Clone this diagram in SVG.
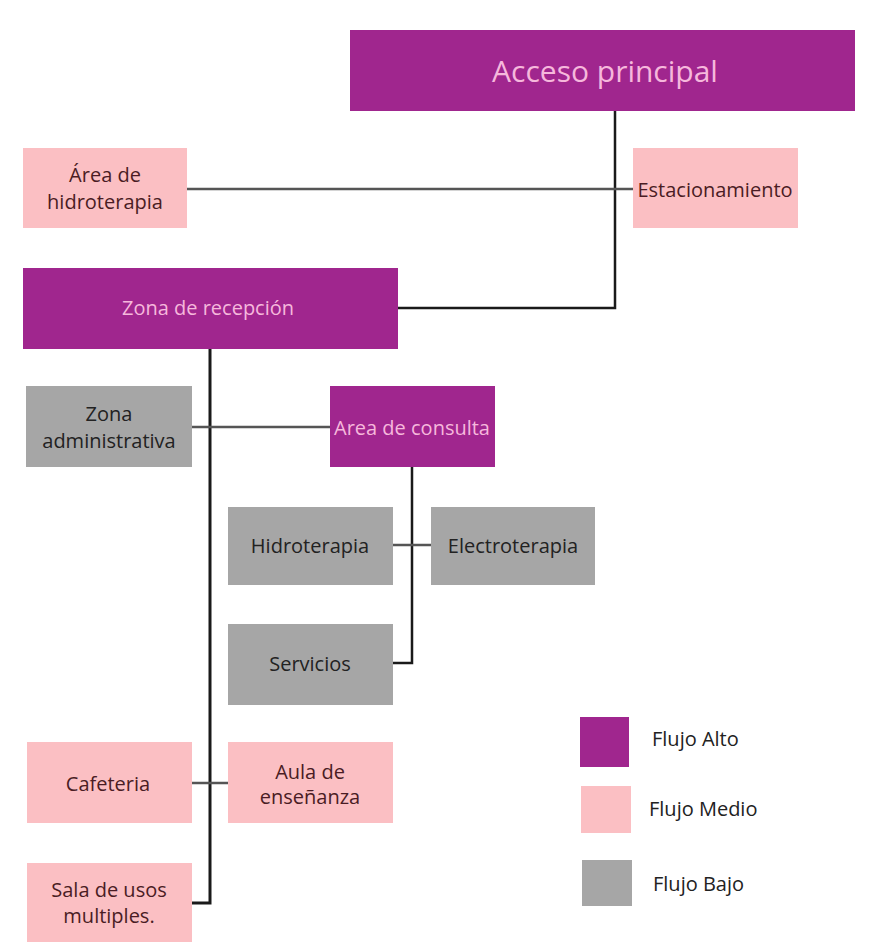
<svg xmlns="http://www.w3.org/2000/svg" width="882" height="942" viewBox="0 0 882 942">
<style>
text{font-family:"Open Sans","Noto Sans","Liberation Sans",sans-serif;text-anchor:middle;dominant-baseline:central;font-size:20px}
.hi{fill:#a0268e}
.md{fill:#fbbfc3}
.lo{fill:#a6a6a6}
.thi{fill:#f6b8dc}
.tmd{fill:#4a1c24}
.tlo{fill:#222222}
.lg{text-anchor:start}
.c{fill:none;stroke:#1a1a1a;stroke-width:2.5}
.cg{fill:none;stroke:#555555;stroke-width:2.5}
</style>
<rect width="882" height="942" fill="#ffffff"/>
<g id="connectors">
<polyline class="c" points="615,111 615,308 398,308"/>
<line class="cg" x1="187" y1="189" x2="633" y2="189"/>
<polyline class="c" points="210,349 210,903 192,903" style="stroke-width:3"/>
<line class="cg" x1="192" y1="427" x2="330" y2="427"/>
<polyline class="c" points="412,467 412,663 393,663"/>
<line class="cg" x1="393" y1="545" x2="431" y2="545"/>
<line class="cg" x1="192" y1="783" x2="228" y2="783"/>
</g>
<g id="acceso">
<rect class="hi" x="350" y="30" width="505" height="81"/>
<text class="thi" x="605" y="70" style="font-size:30px">Acceso principal</text>
</g>
<g id="area-hidroterapia">
<rect class="md" x="23" y="148" width="164" height="80"/>
<text class="tmd" x="105" y="174">Área de</text>
<text class="tmd" x="105" y="201">hidroterapia</text>
</g>
<g id="estacionamiento">
<rect class="md" x="633" y="148" width="165" height="80"/>
<text class="tmd" x="715" y="189">Estacionamiento</text>
</g>
<g id="recepcion">
<rect class="hi" x="23" y="268" width="375" height="81"/>
<text class="thi" x="208" y="307">Zona de recepción</text>
</g>
<g id="administrativa">
<rect class="lo" x="26" y="386" width="166" height="81"/>
<text class="tlo" x="109" y="413">Zona</text>
<text class="tlo" x="109" y="440">administrativa</text>
</g>
<g id="consulta">
<rect class="hi" x="330" y="386" width="165" height="81"/>
<text class="thi" x="412" y="427">Area de consulta</text>
</g>
<g id="hidroterapia">
<rect class="lo" x="228" y="507" width="165" height="78"/>
<text class="tlo" x="310" y="545">Hidroterapia</text>
</g>
<g id="electroterapia">
<rect class="lo" x="431" y="507" width="164" height="78"/>
<text class="tlo" x="513" y="545">Electroterapia</text>
</g>
<g id="servicios">
<rect class="lo" x="228" y="624" width="165" height="81"/>
<text class="tlo" x="310" y="663">Servicios</text>
</g>
<g id="cafeteria">
<rect class="md" x="27" y="742" width="165" height="81"/>
<text class="tmd" x="108" y="783">Cafeteria</text>
</g>
<g id="aula">
<rect class="md" x="228" y="742" width="165" height="81"/>
<text class="tmd" x="310" y="771">Aula de</text>
<text class="tmd" x="310" y="796">enseñanza</text>
</g>
<g id="sala">
<rect class="md" x="27" y="863" width="165" height="79"/>
<text class="tmd" x="109" y="889">Sala de usos</text>
<text class="tmd" x="109" y="915">multiples.</text>
</g>
<g id="legend">
<rect class="hi" x="580" y="717" width="49" height="50"/>
<text class="tlo lg" x="652" y="738">Flujo Alto</text>
<rect class="md" x="581" y="786" width="50" height="47"/>
<text class="tlo lg" x="649" y="808">Flujo Medio</text>
<rect class="lo" x="582" y="860" width="50" height="46"/>
<text class="tlo lg" x="653" y="883">Flujo Bajo</text>
</g>
</svg>
